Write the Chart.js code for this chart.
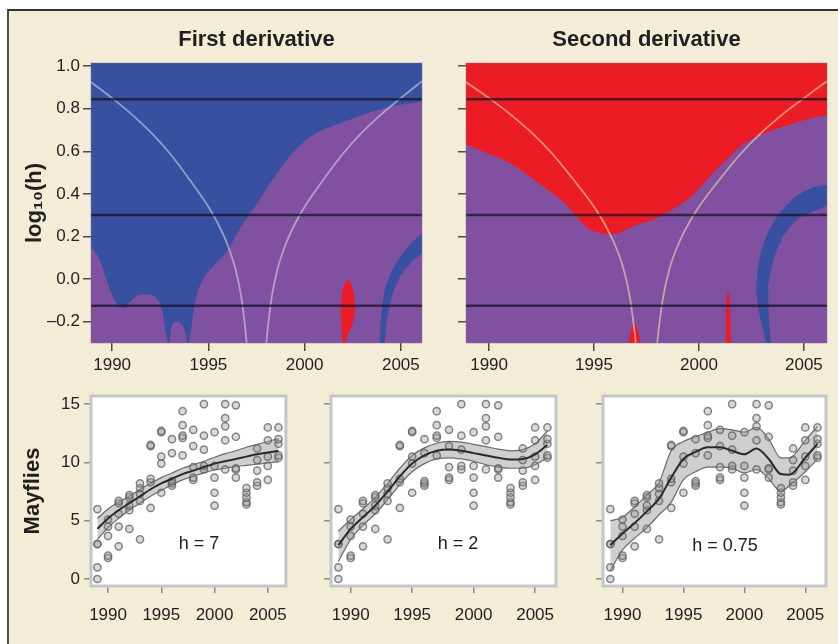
<!DOCTYPE html>
<html>
<head>
<meta charset="utf-8">
<script src="https://cdn.jsdelivr.net/npm/chart.js@4.4.0/dist/chart.umd.min.js"></script>
<style>
  html, body { margin: 0; padding: 0; background: #fff; }
  body { width: 838px; height: 644px; position: relative; overflow: hidden; font-family: "Liberation Sans", Arial, sans-serif; }
  #panel { position: absolute; left: 7px; top: 9px; right: 0; bottom: 0; background: #f3ecd6; border-left: 2px solid #4d4d4d; border-top: 2px solid #333; }
  canvas { position: absolute; }
  .hlabel { position: absolute; font-size: 18px; color: #1e1e1e; transform: translate(-50%, -50%); white-space: nowrap; }
</style>
</head>
<body>
<div id="panel"></div>
<canvas id="firstDeriv" width="430" height="380" style="left:0;top:0"></canvas>
<canvas id="secondDeriv" width="408" height="380" style="left:430px;top:0"></canvas>
<canvas id="smoothH7" width="300" height="264" style="left:0;top:380px"></canvas>
<canvas id="smoothH2" width="270" height="264" style="left:300px;top:380px"></canvas>
<canvas id="smoothH075" width="268" height="264" style="left:570px;top:380px"></canvas>
<div class="hlabel" style="left:199px;top:543px">h = 7</div>
<div class="hlabel" style="left:458px;top:543px">h = 2</div>
<div class="hlabel" style="left:725px;top:545px">h = 0.75</div>
<script>
// ---- tick values ----
const yearTicks = [1990, 1995, 2000, 2005];
const logHTicks = [-0.2, 0, 0.2, 0.4, 0.6, 0.8, 1.0];
const logHLabels = ['\u20130.2', '0.0', '0.2', '0.4', '0.6', '0.8', '1.0'];
const mayflyTicks = [0, 5, 10, 15];
const bandwidths = [7, 2, 0.75];

// ---- first derivative SiZer map (background = significant increase) ----
const d1PurpleX = [1988.8, 1989.3, 1989.85, 1990.2, 1990.6, 1990.9, 1991.24, 1991.76, 1992.3, 1992.6, 1992.8, 1992.95, 1993.07, 1993.33, 1993.6, 1993.82, 1993.94, 1994.07, 1994.2, 1994.38, 1994.73, 1995.25, 1995.95, 1996.65, 1997.35, 1998.05, 1998.75, 1999.45, 2000.5, 2001.5, 2002.6, 2003.6, 2004.7, 2006.2];
const d1PurpleY = [0.16, 0.10, -0.04, -0.11, -0.135, -0.11, -0.08, -0.072, -0.09, -0.15, -0.26, -0.31, -0.23, -0.20, -0.21, -0.26, -0.31, -0.26, -0.17, -0.08, 0.0, 0.06, 0.13, 0.24, 0.33, 0.43, 0.52, 0.60, 0.68, 0.72, 0.757, 0.79, 0.815, 0.836];
const d1BlueX = [2003.9, 2003.95, 2004.05, 2004.2, 2004.5, 2005.0, 2005.55, 2006.2, 2006.2, 2005.55, 2005.0, 2004.6, 2004.4, 2004.25, 2004.15];
const d1BlueY = [-0.3, -0.2, -0.11, -0.04, 0.035, 0.11, 0.17, 0.225, 0.13, 0.08, 0.02, -0.06, -0.13, -0.21, -0.3];
const d1RedX = [2001.97, 2001.9, 2001.88, 2001.95, 2002.08, 2002.27, 2002.45, 2002.58, 2002.62, 2002.55, 2002.4, 2002.2, 2002.15];
const d1RedY = [-0.3, -0.2, -0.12, -0.06, -0.02, 0.0, -0.03, -0.08, -0.14, -0.19, -0.23, -0.27, -0.3];

// ---- second derivative SiZer map (background = significant convexity) ----
const d2PurpleX = [1988.8, 1989.94, 1990.89, 1991.83, 1992.78, 1993.57, 1994.2, 1994.68, 1995.15, 1995.7, 1996.26, 1996.89, 1997.83, 1998.78, 1999.41, 2000.05, 2000.68, 2001.31, 2001.94, 2002.57, 2003.52, 2004.47, 2005.1, 2006.2];
const d2PurpleY = [0.635, 0.59, 0.55, 0.49, 0.42, 0.36, 0.29, 0.24, 0.22, 0.21, 0.22, 0.25, 0.28, 0.33, 0.37, 0.43, 0.50, 0.56, 0.62, 0.66, 0.70, 0.73, 0.75, 0.77];
const d2BlueX = [2003.2, 2003.0, 2002.85, 2002.75, 2002.73, 2002.8, 2002.95, 2003.2, 2003.5, 2003.84, 2004.2, 2004.63, 2005.0, 2005.42, 2005.8, 2006.2, 2006.2, 2005.5, 2004.8, 2004.35, 2004.0, 2003.72, 2003.52, 2003.38, 2003.3, 2003.3, 2003.34, 2003.42];
const d2BlueY = [-0.3, -0.22, -0.15, -0.08, -0.03, 0.05, 0.13, 0.2, 0.26, 0.31, 0.35, 0.39, 0.41, 0.43, 0.44, 0.445, 0.35, 0.32, 0.29, 0.25, 0.2, 0.14, 0.08, 0.02, -0.03, -0.12, -0.2, -0.3];
const d2RedAX = [1996.65, 1996.75, 1996.9, 1997.0, 1997.12, 1997.22];
const d2RedAY = [-0.3, -0.25, -0.21, -0.21, -0.25, -0.3];
const d2RedBX = [2001.28, 2001.3, 2001.37, 2001.46, 2001.5, 2001.52];
const d2RedBY = [-0.3, -0.1, -0.055, -0.08, -0.2, -0.3];

// ---- effective window curves ----
const coneLeftX = [1988.83, 1990.0, 1991.0, 1992.0, 1993.0, 1994.0, 1995.0, 1995.5, 1996.0, 1996.4, 1996.7, 1996.9, 1997.0];
const coneLeftY = [0.93, 0.85, 0.775, 0.69, 0.59, 0.47, 0.34, 0.26, 0.16, 0.05, -0.08, -0.22, -0.31];
const coneRightX = [1998.0, 1998.1, 1998.3, 1998.6, 1999.0, 1999.5, 2000.0, 2001.0, 2002.0, 2003.0, 2004.0, 2005.0, 2006.1];
const coneRightY = [-0.31, -0.22, -0.08, 0.05, 0.16, 0.26, 0.34, 0.47, 0.59, 0.69, 0.775, 0.85, 0.93];

// ---- mayfly observations ----
const surveyYears = [1989, 1990, 1991, 1992, 1993, 1994, 1995, 1996, 1997, 1998, 1999, 2000, 2001, 2002, 2003, 2004, 2005, 2006];
const mayflyCounts = [
  [0, 1, 3, 3, 6],
  [1.8, 2, 3.7, 4.5, 5.1],
  [2.8, 4.5, 5.6, 6.5, 6.7],
  [4.3, 5.9, 6.3, 7.0, 7.2],
  [3.4, 6.7, 7.3, 7.8, 8.2],
  [6.1, 8.3, 8.6, 11.4, 11.5],
  [7.4, 9.9, 10.5, 12.6, 12.7],
  [8.0, 8.2, 8.4, 10.8, 12.0],
  [10.6, 12.1, 12.3, 13.2, 14.4],
  [8.5, 8.7, 9.6, 11.4, 12.8],
  [9.4, 9.7, 11.1, 12.3, 15.0],
  [6.3, 7.4, 8.7, 9.7, 12.6],
  [9.4, 11.9, 13.1, 13.8, 15.0],
  [8.7, 9.4, 9.5, 12.2, 14.9],
  [6.4, 6.6, 7.0, 7.4, 7.8],
  [8.0, 8.3, 9.3, 10.2, 11.2],
  [8.5, 9.7, 10.5, 11.9, 13.0],
  [10.4, 10.6, 11.6, 12.0, 13.0]
];

// ---- smooths with confidence bands ----
const smoothYears = [1989, 1990, 1991, 1992, 1993, 1994, 1995, 1996, 1997, 1998, 1999, 2000, 2001, 2002, 2003, 2004, 2005, 2006];
const h7Mean = [4.3, 5.2, 5.9, 6.5, 7.1, 7.7, 8.2, 8.6, 9.0, 9.3, 9.6, 9.9, 10.1, 10.3, 10.5, 10.7, 10.85, 11.0];
const h7Upper = [5.2, 6.0, 6.6, 7.1, 7.7, 8.2, 8.7, 9.1, 9.5, 9.8, 10.1, 10.45, 10.75, 11.0, 11.3, 11.55, 11.8, 12.05];
const h7Lower = [3.4, 4.4, 5.2, 5.9, 6.5, 7.1, 7.6, 8.1, 8.5, 8.8, 9.1, 9.35, 9.5, 9.65, 9.75, 9.85, 9.95, 10.05];
const h2Mean = [2.9, 4.3, 5.3, 6.3, 7.5, 8.8, 9.9, 10.6, 11.0, 11.1, 11.0, 10.8, 10.6, 10.4, 10.25, 10.3, 10.7, 11.5];
const h2Upper = [4.1, 5.1, 6.0, 7.0, 8.2, 9.5, 10.6, 11.25, 11.65, 11.8, 11.75, 11.55, 11.35, 11.15, 11.0, 11.1, 11.6, 12.7];
const h2Lower = [1.5, 3.4, 4.6, 5.6, 6.8, 8.1, 9.2, 9.9, 10.3, 10.4, 10.3, 10.1, 9.8, 9.6, 9.5, 9.5, 9.8, 10.4];
const h075Years = [1989, 1990, 1991, 1992, 1993, 1994, 1995, 1996, 1997, 1998, 1999, 2000, 2001, 2002, 2003, 2003.7, 2005, 2006];
const h075Mean = [2.9, 3.9, 4.8, 5.8, 6.9, 8.7, 10.3, 10.9, 11.3, 11.3, 11.0, 10.7, 11.2, 10.3, 9.0, 8.95, 10.4, 11.6];
const h075Upper = [5.0, 5.3, 6.2, 7.2, 8.3, 11.0, 11.8, 12.2, 12.6, 12.9, 12.8, 12.6, 13.0, 12.0, 10.4, 10.4, 11.9, 13.1];
const h075Lower = [0.7, 2.5, 3.5, 4.4, 5.5, 6.6, 8.5, 9.2, 9.6, 9.6, 9.5, 9.1, 9.4, 8.6, 7.5, 8.0, 9.2, 10.3];

const BLUE = '#3750a0', PURPLE = '#8050a1', RED = '#ec1c24';
const TOP_X = {min: 1988.9, max: 2006.1};
const BOT_X = {min: 1988.4, max: 2006.7};
const TEXT = '#1f1f1f';

Chart.defaults.font.family = '"Liberation Sans", Arial, sans-serif';
Chart.defaults.color = TEXT;

const pts = (xs, ys) => xs.map((x, i) => ({x: x, y: ys[i]}));

const plotFrame = {
  id: 'plotFrame',
  beforeDraw(chart, args, opts) {
    const {ctx, chartArea: a} = chart;
    ctx.save();
    ctx.fillStyle = opts.fill;
    ctx.fillRect(a.left, a.top, a.right - a.left, a.bottom - a.top);
    ctx.restore();
  },
  afterDraw(chart, args, opts) {
    const {ctx, chartArea: a} = chart;
    ctx.save();
    ctx.strokeStyle = opts.stroke;
    ctx.lineWidth = opts.width;
    ctx.strokeRect(a.left, a.top, a.right - a.left, a.bottom - a.top);
    ctx.restore();
  }
};

// shapes: straight polygon edges; boundaries: monotone curve filled to the axis
function shape(xs, ys, color, order) {
  return {data: pts(xs, ys), backgroundColor: color, borderColor: 'rgba(0,0,0,0)', borderWidth: 0,
    fill: 'shape', order: order, pointRadius: 0, tension: 0};
}
function boundary(xs, ys, color, order) {
  return {data: pts(xs, ys), backgroundColor: color, borderColor: 'rgba(0,0,0,0)', borderWidth: 0,
    fill: 'start', order: order, pointRadius: 0, cubicInterpolationMode: 'monotone'};
}

function sizerDatasets(purple, bands, blobs, coneColor) {
  const sets = [];
  bandwidths.forEach(h => sets.push({
    data: [{x: TOP_X.min, y: Math.log10(h)}, {x: TOP_X.max, y: Math.log10(h)}],
    borderColor: 'rgba(25,20,35,0.75)', borderWidth: 2.5, pointRadius: 0, order: 1
  }));
  [[coneLeftX, coneLeftY], [coneRightX, coneRightY]].forEach(c => sets.push({
    data: pts(c[0], c[1]), borderColor: coneColor, borderWidth: 1.8, pointRadius: 0,
    cubicInterpolationMode: 'monotone', order: 2
  }));
  blobs.forEach(b => sets.push(shape(b[0], b[1], RED, 3)));
  bands.forEach(b => sets.push(shape(b[0], b[1], BLUE, 4)));
  sets.push(boundary(purple[0], purple[1], PURPLE, 5));
  return sets;
}

function sizerChart(id, title, datasets, background, padLeft, padRight, yWidth, showLabels) {
  return new Chart(document.getElementById(id), {
    type: 'line',
    data: {datasets: datasets},
    options: {
      responsive: false,
      animation: false,
      layout: {padding: {left: padLeft, right: padRight, top: 0, bottom: 0}},
      plugins: {
        legend: {display: false},
        tooltip: {enabled: false},
        title: {display: true, text: title, fullSize: false, color: TEXT,
          font: {size: 22, weight: 'bold'}, padding: {top: 27, bottom: 9.6}},
        plotFrame: {fill: background, stroke: 'rgba(120,115,140,0.45)', width: 1}
      },
      scales: {
        x: {
          type: 'linear', min: TOP_X.min, max: TOP_X.max,
          afterBuildTicks: s => { s.ticks = yearTicks.map(v => ({value: v})); },
          afterFit: s => { s.height = 37; },
          grid: {drawOnChartArea: false, tickLength: 8, color: '#4a4a4a', lineWidth: 1.5},
          border: {display: false},
          ticks: {font: {size: 17}, color: TEXT, padding: 4, maxRotation: 0, autoSkip: false, callback: v => String(v)}
        },
        y: {
          type: 'linear', min: -0.3, max: 1.015,
          afterBuildTicks: s => { s.ticks = logHTicks.map(v => ({value: v})); },
          afterFit: s => { s.width = yWidth; },
          grid: {drawOnChartArea: false, tickLength: 8, color: '#4a4a4a', lineWidth: 1.5},
          border: {display: false},
          title: {display: showLabels, text: 'log\u2081\u2080(h)', color: TEXT,
            font: {size: 22, weight: 'bold'}, padding: {top: 13.8, bottom: 0}},
          ticks: {display: showLabels, font: {size: 17}, color: TEXT, padding: 3, callback: (v, i) => logHLabels[i]}
        }
      }
    },
    plugins: [plotFrame]
  });
}

sizerChart('firstDeriv', 'First derivative',
  sizerDatasets([d1PurpleX, d1PurpleY], [[d1BlueX, d1BlueY]], [[d1RedX, d1RedY]], 'rgba(225,222,235,0.55)'),
  BLUE, 8, 8, 83, true);
sizerChart('secondDeriv', 'Second derivative',
  sizerDatasets([d2PurpleX, d2PurpleY], [[d2BlueX, d2BlueY]], [[d2RedAX, d2RedAY], [d2RedBX, d2RedBY]], 'rgba(240,222,170,0.6)'),
  RED, 0, 11, 36, false);

const mayflyPoints = surveyYears.flatMap((yr, i) => mayflyCounts[i].map(v => ({x: yr, y: v})));

function smoothChart(id, xs, mean, upper, lower, padLeft, padRight, yWidth, showLabels) {
  const curve = {pointRadius: 0, cubicInterpolationMode: 'monotone'};
  return new Chart(document.getElementById(id), {
    type: 'line',
    data: {
      datasets: [
        {data: mayflyPoints, showLine: false, pointRadius: 3.6, pointBorderWidth: 1.5,
          pointBorderColor: 'rgba(95,95,95,0.75)', pointBackgroundColor: 'rgba(150,150,150,0.35)', order: 2},
        Object.assign({data: pts(xs, mean), borderColor: '#2a2a2a', borderWidth: 2, order: 1}, curve),
        Object.assign({data: pts(xs, upper), borderColor: 'rgba(85,85,85,0.85)', borderWidth: 1.2, order: 3}, curve),
        Object.assign({data: pts(xs, lower), borderColor: 'rgba(85,85,85,0.85)', borderWidth: 1.2,
          fill: '-1', backgroundColor: 'rgba(175,175,175,0.6)', order: 4}, curve)
      ]
    },
    options: {
      responsive: false,
      animation: false,
      layout: {padding: {left: padLeft, right: padRight, top: 16, bottom: 0}},
      plugins: {
        legend: {display: false},
        tooltip: {enabled: false},
        plotFrame: {fill: '#ffffff', stroke: '#c6c6c6', width: 3}
      },
      scales: {
        x: {
          type: 'linear', min: BOT_X.min, max: BOT_X.max,
          afterBuildTicks: s => { s.ticks = yearTicks.map(v => ({value: v})); },
          afterFit: s => { s.height = 58; },
          grid: {drawOnChartArea: false, tickLength: 7, color: '#8a8a8a', lineWidth: 1.5},
          border: {display: false},
          ticks: {font: {size: 17}, color: TEXT, padding: 12, maxRotation: 0, autoSkip: false, callback: v => String(v)}
        },
        y: {
          type: 'linear', min: -0.6, max: 15.7,
          afterBuildTicks: s => { s.ticks = mayflyTicks.map(v => ({value: v})); },
          afterFit: s => { s.width = yWidth; },
          grid: {drawOnChartArea: false, tickLength: 7, color: '#8a8a8a', lineWidth: 1.5},
          border: {display: false},
          title: {display: showLabels, text: 'Mayflies', color: TEXT,
            font: {size: 22, weight: 'bold'}, padding: {top: 11.3, bottom: 0}},
          ticks: {display: showLabels, font: {size: 17}, color: TEXT, padding: 4, callback: v => String(v)}
        }
      }
    },
    plugins: [plotFrame]
  });
}

smoothChart('smoothH7', smoothYears, h7Mean, h7Upper, h7Lower, 8, 14, 83, true);
smoothChart('smoothH2', smoothYears, h2Mean, h2Upper, h2Lower, 0, 14, 31, false);
smoothChart('smoothH075', h075Years, h075Mean, h075Upper, h075Lower, 0, 12, 33, false);
</script>
</body>
</html>
